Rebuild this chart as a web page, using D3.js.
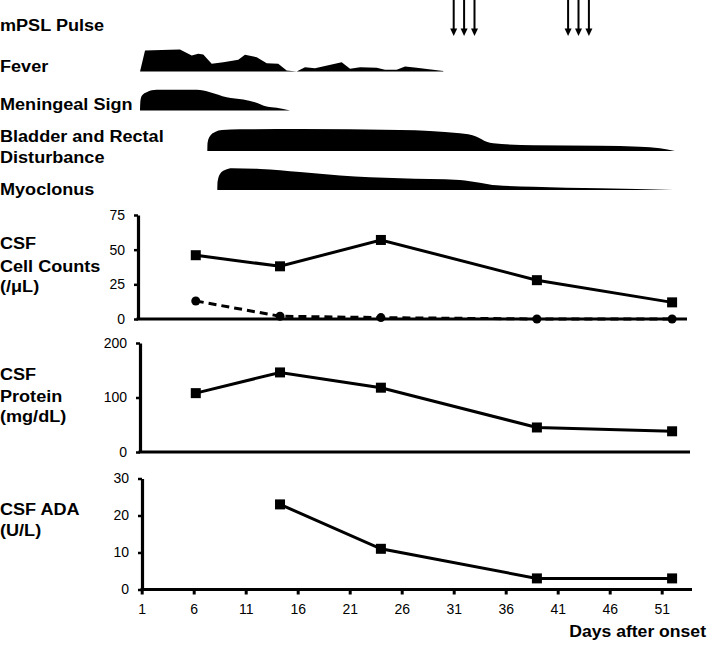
<!DOCTYPE html>
<html><head><meta charset="utf-8">
<script src="https://cdn.jsdelivr.net/npm/d3@7"></script>
<style>
html,body{margin:0;padding:0;background:#fff;}
svg{display:block;font-family:Arial,"Liberation Sans",sans-serif;}
</style></head>
<body>
<svg id="chart" width="708" height="645"></svg>
<script>
// ---------- DATA ----------
const xTicks = [1, 6, 11, 16, 21, 26, 31, 36, 41, 46, 51];
const pulseDays = [31, 32, 33, 42, 43, 44];

// symptom profiles: day and relative intensity
const feverDays = [0.84,1.32,3.72,4.68,5.81,6.44,6.92,7.73,8.85,10.29,10.93,12.06,13.02,14.13,14.94,15.9,16.7,17.66,20.23,21.03,22.0,23.6,24.4,25.52,26.32,27.44,30.0];
const feverLevel = [0,21,21.7,22,16,17.7,17,7.7,9.3,11.7,16.7,14.3,8.3,7.7,1,0,4.3,3.3,9.3,2.7,4.3,3.7,1.7,1.7,5,3.7,0.4];

const meningDays = [0.84,0.88,1.03,1.48,2.44,6.29,7.57,9.17,10.77,11.89,13.02,13.98,15.26];
const meningLevel = [0,10,15,18.3,20.7,20.7,18.3,13.3,11,8.3,4,2.7,0];

const bladderDays = [7.31,7.33,7.57,8.05,8.72,10.45,16.22,25.84,31.6,33.21,34.17,34.8,38.65,45.06,48.9,50.83,52.27];
const bladderLevel = [0,8,15,19,21,21.7,22,21,17.7,14.3,9.3,7.7,5.7,5.3,4.3,2.7,0];

const myoDays = [8.27,8.29,8.53,9.01,9.68,12.38,16.22,20.07,25.84,31.6,33.52,35.13,38.65,45.06,52.11];
const myoLevel = [0,8,16,20,21.7,21,18,14.5,11.7,10,7.3,4.7,3.3,1.7,0];

const csfDays = [6.2, 14.3, 24, 39, 52];
const cellCounts = [46, 38, 57, 28, 12];
const cellCountsDashed = [13, 2, 1, 0, 0];
const cellTicks = [0, 25, 50, 75];

const protein = [108, 146, 118, 45, 38];
const proteinTicks = [0, 100, 200];

const adaDays = [14.3, 24, 39, 52];
const ada = [23, 11, 3, 3];
const adaTicks = [0, 10, 20, 30];

const rowLabels = [
  {lines:["mPSL Pulse"], y:[31]},
  {lines:["Fever"], y:[71.5]},
  {lines:["Meningeal Sign"], y:[110]},
  {lines:["Bladder and Rectal","Disturbance"], y:[141.5,162.5]},
  {lines:["Myoclonus"], y:[195]},
  {lines:["CSF","Cell Counts","(/\u03bcL)"], y:[249,271.5,292]},
  {lines:["CSF","Protein","(mg/dL)"], y:[380,401.5,422]},
  {lines:["CSF ADA","(U/L)"], y:[515,535.5]}
];

// ---------- DRAW ----------
const svg = d3.select("#chart");
const x = d3.scaleLinear().domain([1, 51]).range([141.7, 661.7]);
const lvl = d3.scaleLinear().domain([0, 22]).range([0, 22]);

// labels
rowLabels.forEach(l => {
  l.lines.forEach((t, i) => {
    svg.append("text")
      .attr("transform", `translate(0,${l.y[i]}) scale(1.13,1)`)
      .attr("font-size", 16).attr("font-weight", "bold").attr("fill", "#000")
      .text(t);
  });
});

// mPSL pulse arrows
pulseDays.forEach(d => {
  const cx = x(d);
  svg.append("line").attr("x1", cx).attr("x2", cx).attr("y1", 0).attr("y2", 30)
    .attr("stroke", "#000").attr("stroke-width", 2);
  svg.append("path").attr("d", `M${cx-3.5},28.5 L${cx+3.5},28.5 L${cx},36 Z`).attr("fill", "#000");
});

// symptom areas
function symptom(days, levels, base, curve) {
  const data = days.map((d, i) => [d, levels[i]]);
  const area = d3.area().x(d => x(d[0])).y0(base).y1(d => base - lvl(d[1])).curve(curve);
  svg.append("path").datum(data).attr("d", area).attr("fill", "#000");
}
symptom(feverDays, feverLevel, 71.5, d3.curveLinear);
symptom(meningDays, meningLevel, 110.5, d3.curveMonotoneX);
symptom(bladderDays, bladderLevel, 151, d3.curveMonotoneX);
symptom(myoDays, myoLevel, 190, d3.curveMonotoneX);

// panels
function panel(opts) {
  const y = d3.scaleLinear().domain([0, opts.max]).range([opts.bottom, opts.top]);
  const g = svg.append("g");
  g.append("line").attr("x1", opts.ax - 1.5).attr("x2", opts.right)
    .attr("y1", opts.bottom).attr("y2", opts.bottom)
    .attr("stroke", "#000").attr("stroke-width", 3.2);
  const ya = g.append("g").attr("transform", `translate(${opts.ax},0)`)
    .call(d3.axisLeft(y).tickValues(opts.ticks).tickSize(4).tickSizeOuter(0).tickPadding(9));
  ya.select(".domain").attr("stroke-width", 3.2);
  ya.selectAll(".tick line").attr("stroke-width", 2.5);
  ya.selectAll("text").attr("font-size", 14).attr("font-family", "Arial, 'Liberation Sans', sans-serif").attr("fill", "#000");
  opts.series.forEach(s => {
    const data = s.days.map((d, i) => [d, s.vals[i]]);
    g.append("path").datum(data)
      .attr("d", d3.line().x(d => x(d[0])).y(d => y(d[1])))
      .attr("fill", "none").attr("stroke", "#000").attr("stroke-width", 3)
      .attr("stroke-dasharray", s.dashed ? "8,5" : null);
    if (s.marker === "square") {
      g.selectAll(null).data(data).enter().append("rect")
        .attr("x", d => x(d[0]) - 5).attr("y", d => y(d[1]) - 5)
        .attr("width", 10).attr("height", 10).attr("fill", "#000");
    } else {
      g.selectAll(null).data(data).enter().append("circle")
        .attr("cx", d => x(d[0])).attr("cy", d => y(d[1])).attr("r", 4.5).attr("fill", "#000");
    }
  });
  return g;
}

panel({max: 75, top: 215, bottom: 319, ax: 138, right: 687, ticks: cellTicks,
  series: [
    {days: csfDays, vals: cellCountsDashed, dashed: true, marker: "circle"},
    {days: csfDays, vals: cellCounts, dashed: false, marker: "square"}
  ]});
panel({max: 200, top: 343, bottom: 452, ax: 140, right: 690, ticks: proteinTicks,
  series: [{days: csfDays, vals: protein, dashed: false, marker: "square"}]});
panel({max: 30, top: 478.5, bottom: 589.5, ax: 142, right: 692, ticks: adaTicks,
  series: [{days: adaDays, vals: ada, dashed: false, marker: "square"}]});

// bottom x axis ticks
const xa = svg.append("g").attr("transform", "translate(0,589.5)")
  .call(d3.axisBottom(x).tickValues(xTicks).tickSize(5).tickSizeOuter(0).tickPadding(10));
xa.select(".domain").remove();
xa.selectAll(".tick line").attr("stroke-width", 3);
xa.selectAll("text").attr("font-size", 14).attr("font-family", "Arial, 'Liberation Sans', sans-serif").attr("fill", "#000");

// x axis title
svg.append("text")
  .attr("transform", "translate(706,636.5) scale(1.1,1)")
  .attr("text-anchor", "end").attr("font-size", 16).attr("font-weight", "bold")
  .text("Days after onset");
</script>
</body></html>
